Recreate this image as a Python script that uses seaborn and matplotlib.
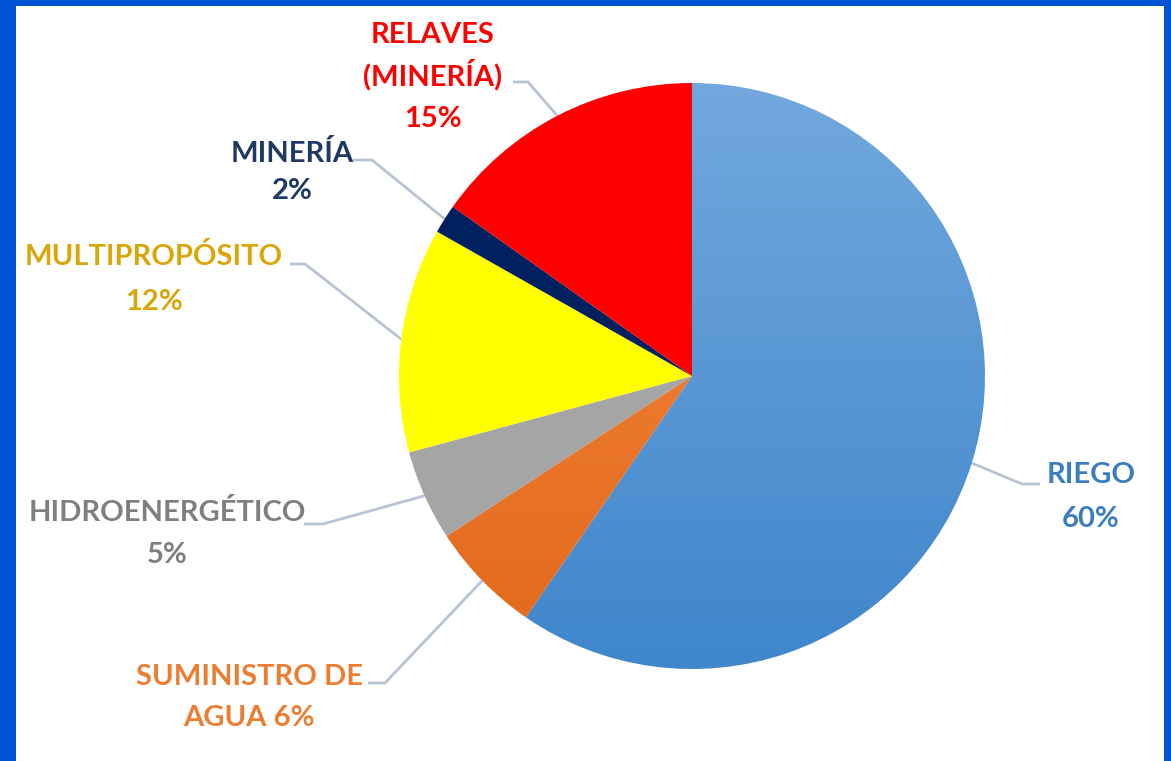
import numpy as np
import matplotlib
matplotlib.use("Agg")
import matplotlib.pyplot as plt
import seaborn as sns
from matplotlib.patches import Rectangle
from matplotlib.colors import LinearSegmentedColormap

sns.set_theme(style="white")
plt.rcParams['font.family'] = ['Lato', 'DejaVu Sans']

# data (clockwise from 12 o'clock)
usos = ["RIEGO", "SUMINISTRO DE\nAGUA", "HIDROENERGÉTICO", "MULTIPROPÓSITO", "MINERÍA", "RELAVES\n(MINERÍA)"]
porcentajes = [59.6, 6.2, 5.0, 12.4, 1.6, 15.2]
colores = ["#5b9bd5", "#ed7d31", "#a5a5a5", "#ffff00", "#002060", "#ff0000"]
colores_texto = ["#3b7dc0", "#ed7d31", "#7f7f7f", "#d9a70a", "#1f3864", "#ff0000"]

W, H = 1171, 761
Y = lambda y: H - y  # pixel row -> data y

fig = plt.figure(figsize=(W / 100, H / 100), dpi=100)
ax = fig.add_axes([0, 0, 1, 1])

cx, cy, r = 692, Y(376), 293
wedges, _ = ax.pie(porcentajes, colors=colores, startangle=90, counterclock=False,
                   center=(cx, cy), radius=r, frame=True,
                   wedgeprops=dict(linewidth=0))

# gradient fill for blue and orange slices
grads = {0: ("#72a8de", "#3f86cb"), 1: ("#f58a40", "#e2681a")}
for i, (c1, c2) in grads.items():
    w = wedges[i]
    w.set_facecolor("none")
    cmap = LinearSegmentedColormap.from_list("g%d" % i, [c2, c1])
    grad = np.linspace(0, 1, 256).reshape(-1, 1)
    im = ax.imshow(grad, cmap=cmap, aspect="auto", origin="lower",
                   extent=(cx - r, cx + r, cy - r, cy + r), zorder=0.5)
    im.set_clip_path(w)

# labels and leader lines: (text x, line centre ys, elbow x, elbow y, text end x)
etiquetas = {
    0: (1091, [473, 517], 1022, 484, 1040),
    1: (249, [675, 716], 385, 683, 368),
    2: (167, [511, 553], 323, 524, 304),
    3: (154, [255, 300], 305, 264, 290),
    4: (292, [152, 189], 372, 160, 353),
    5: (433, [33, 75, 117], 528, 82, 513),
}
linea = "#b8c4d4"
for i, w in enumerate(wedges):
    tx, ys, ex, ey, sx = etiquetas[i]
    ang = np.deg2rad((w.theta1 + w.theta2) / 2)
    px, py = cx + r * np.cos(ang), cy + r * np.sin(ang)
    ax.plot([sx, ex, px], [Y(ey), Y(ey), py], color=linea, lw=2, zorder=0.4,
            solid_capstyle="butt")
    nombre = usos[i]
    pct = f"{porcentajes[i]:.0f}%"
    if nombre.endswith("AGUA"):
        txt = nombre + " " + pct
    else:
        txt = nombre + "\n" + pct
    for linea_txt, yy in zip(txt.split("\n"), ys):
        ax.text(tx, Y(yy + 10), linea_txt, ha="center", va="baseline",
                color=colores_texto[i], fontsize=21, fontweight="bold")

# blue frame
marco = "#0055d4"
for x0, y0, w_, h_ in [(0, 0, 16, H), (0, H - 6, W, 6), (W - 7, 0, 7, H)]:
    ax.add_patch(Rectangle((x0, y0), w_, h_, color=marco, lw=0, zorder=5))

ax.set_xlim(0, W)
ax.set_ylim(0, H)
ax.set_aspect("equal")
ax.axis("off")
fig.savefig("out.png", dpi=100, facecolor="white")
